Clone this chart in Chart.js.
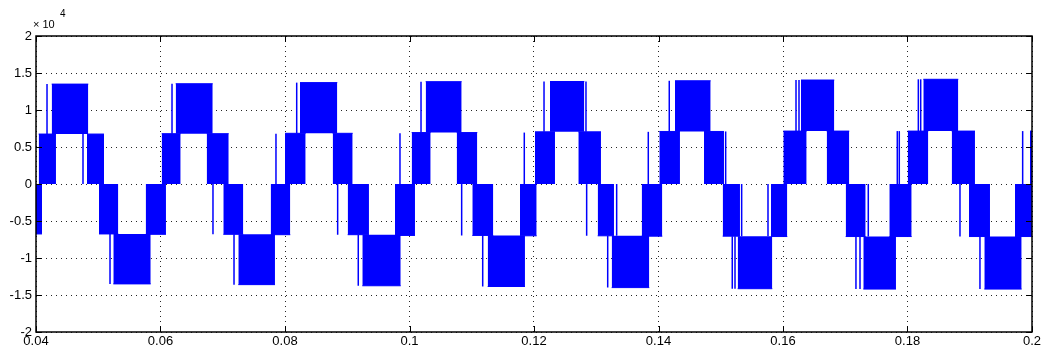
<!DOCTYPE html>
<html>
<head>
<meta charset="utf-8">
<script src="https://cdn.jsdelivr.net/npm/chart.js@4/dist/chart.umd.min.js"></script>
<style>
  html, body { margin: 0; padding: 0; background: #fff; }
  #wrap { width: 1046px; height: 352px; }
</style>
</head>
<body>
<div id="wrap"><canvas id="c" width="1046" height="352"></canvas></div>
<script>
// ---- Data (time in s, voltage in V) ----
// Blocks of dense switching between two adjacent levels: [tStart, tEnd, lowLevel, highLevel]
const posUpperBlocks = [
  [0.04252, 0.04840, 6750, 13500],
  [0.06244, 0.06839, 6800, 13550],
  [0.08241, 0.08840, 6850, 13700],
  [0.10260, 0.10838, 6950, 13830],
  [0.12257, 0.12808, 7050, 13850],
  [0.14265, 0.14838, 7100, 13950],
  [0.16289, 0.16824, 7150, 14050],
  [0.18254, 0.18816, 7150, 14150]
];
const posLowerBlocks = [
  [0.04043, 0.04321, 0, 6750],
  [0.04819, 0.05092, 0, 6750],
  [0.06019, 0.06324, 0, 6800],
  [0.06742, 0.07096, 0, 6800],
  [0.08000, 0.08332, 0, 6850],
  [0.08766, 0.09087, 0, 6850],
  [0.10035, 0.10340, 0, 6950],
  [0.10758, 0.11089, 0, 6950],
  [0.12016, 0.12337, 0, 7050],
  [0.12712, 0.13076, 0, 7050],
  [0.14013, 0.14345, 0, 7100],
  [0.14731, 0.15052, 0, 7100],
  [0.16005, 0.16380, 0, 7150],
  [0.16702, 0.17065, 0, 7150],
  [0.18003, 0.18334, 0, 7150],
  [0.18710, 0.19084, 0, 7150],
  [0.19968, 0.20000, 0, 7150]
];
const negLowerBlocks = [
  [0.04000, 0.04096, -6750, 0],
  [0.05012, 0.05322, -6750, 0],
  [0.05762, 0.06088, -6800, 0],
  [0.07009, 0.07330, -6800, 0],
  [0.07770, 0.08085, -6850, 0],
  [0.09007, 0.09349, -6850, 0],
  [0.09767, 0.10088, -6950, 0],
  [0.11009, 0.11346, -6950, 0],
  [0.11775, 0.12043, -7000, 0],
  [0.13023, 0.13285, -7000, 0],
  [0.13730, 0.14061, -7050, 0],
  [0.15031, 0.15309, -7050, 0],
  [0.15807, 0.16069, -7100, 0],
  [0.17007, 0.17328, -7100, 0],
  [0.17708, 0.18067, -7100, 0],
  [0.18988, 0.19325, -7100, 0],
  [0.19727, 0.20000, -7100, 0]
];
const negUpperBlocks = [
  [0.05242, 0.05843, -13500, -6750],
  [0.07250, 0.07839, -13600, -6800],
  [0.09242, 0.09859, -13750, -6850],
  [0.11256, 0.11855, -13850, -6950],
  [0.13248, 0.13852, -14000, -7000],
  [0.15272, 0.15828, -14150, -7050],
  [0.17290, 0.17815, -14200, -7100],
  [0.19234, 0.19834, -14200, -7100]
];
// Isolated switching pulses: [t, fromLevel, toLevel]
const pulses = [
  [0.04177, 6750, 13500], [0.04755, 0, 6750], [0.05189, -6750, -13500],
  [0.06185, 6800, 13550], [0.06843, 0, -6800], [0.07181, -6800, -13600], [0.07855, 0, 6800],
  [0.08188, 6850, 13700], [0.08846, 0, -6850], [0.09177, -6850, -13750], [0.09847, 0, 6850],
  [0.10185, 6950, 13830], [0.10838, 0, -6950], [0.11176, -6950, -13850], [0.11844, 0, 6950],
  [0.12161, 7050, 13850], [0.12835, 7050, 13850], [0.12846, 0, -7000], [0.13328, 0, -7000],
  [0.13184, -7000, -14000], [0.13836, 0, 7050],
  [0.14173, 7100, 13950], [0.15079, 0, 7100], [0.15336, 0, -7050], [0.15185, -7050, -14150],
  [0.15229, -7050, -14150], [0.15759, 0, -7050],
  [0.16209, 7150, 14050], [0.16257, 7150, 14050], [0.17370, 0, -7100], [0.17172, -7100, -14200],
  [0.17237, -7100, -14200], [0.17836, 0, 7150], [0.17868, 0, 7150],
  [0.18174, 7150, 14150], [0.18212, 7150, 14150], [0.18843, 0, -7100], [0.19164, -7100, -14200],
  [0.19850, 0, 7150]
];
const xTickValues = [0.04, 0.06, 0.08, 0.10, 0.12, 0.14, 0.16, 0.18, 0.20];
const xTickLabels = ['0.04', '0.06', '0.08', '0.1', '0.12', '0.14', '0.16', '0.18', '0.2'];
const yTickValues = [-20000, -15000, -10000, -5000, 0, 5000, 10000, 15000, 20000];
const yTickLabels = ['-2', '-1.5', '-1', '-0.5', '0', '0.5', '1', '1.5', '2'];
const yExponentLabel = '10';
const yExponentPower = '4';

// ---- Build datasets ----
const BLUE = '#0000ff';
const datasets = [];
function addBlocks(blocks, edgeIsHigh) {
  blocks.forEach(b => {
    const edge = edgeIsHigh ? b[3] : b[2];
    const base = edgeIsHigh ? b[2] : b[3];
    datasets.push({
      data: [{ x: b[0], y: edge }, { x: b[1], y: edge }],
      borderColor: BLUE, backgroundColor: BLUE, borderWidth: 1,
      pointRadius: 0, tension: 0, fill: { value: base }
    });
  });
}
addBlocks(posUpperBlocks, true);
addBlocks(posLowerBlocks, true);
addBlocks(negLowerBlocks, false);
addBlocks(negUpperBlocks, false);
pulses.forEach(p => {
  datasets.push({
    data: [{ x: p[0], y: p[1] }, { x: p[0], y: p[2] }],
    borderColor: BLUE, borderWidth: 1.5, pointRadius: 0, fill: false
  });
});

// ---- Frame, inner tick marks and exponent label (MATLAB style) ----
const framePlugin = {
  id: 'frame',
  afterDraw(chart) {
    const { ctx, chartArea: a, scales } = chart;
    ctx.save();
    ctx.strokeStyle = '#000';
    ctx.lineWidth = 1.5;
    ctx.strokeRect(a.left, a.top, a.right - a.left, a.bottom - a.top);
    ctx.lineWidth = 1;
    const tl = 6;
    ctx.beginPath();
    xTickValues.forEach(v => {
      const x = Math.round(scales.x.getPixelForValue(v)) + 0.5;
      ctx.moveTo(x, a.bottom); ctx.lineTo(x, a.bottom - tl);
      ctx.moveTo(x, a.top); ctx.lineTo(x, a.top + tl);
    });
    yTickValues.forEach(v => {
      const y = Math.round(scales.y.getPixelForValue(v)) + 0.5;
      ctx.moveTo(a.left, y); ctx.lineTo(a.left + tl, y);
      ctx.moveTo(a.right, y); ctx.lineTo(a.right - tl, y);
    });
    ctx.stroke();
    ctx.fillStyle = '#000';
    ctx.textBaseline = 'alphabetic';
    ctx.textAlign = 'left';
    ctx.font = '11px "Liberation Sans", Arial, sans-serif';
    ctx.fillText('\u00d7 ' + yExponentLabel, a.left - 3, a.top - 8);
    ctx.font = '10px "Liberation Sans", Arial, sans-serif';
    ctx.fillText(yExponentPower, a.left + 24, a.top - 19);
    ctx.restore();
  }
};

new Chart(document.getElementById('c'), {
  type: 'line',
  data: { datasets },
  options: {
    responsive: false,
    animation: false,
    events: [],
    layout: { padding: { top: 36, right: 14, left: 0, bottom: 0 } },
    plugins: { legend: { display: false }, tooltip: { enabled: false } },
    scales: {
      x: {
        type: 'linear', min: 0.04, max: 0.2,
        afterBuildTicks: s => { s.ticks = xTickValues.map(v => ({ value: v })); },
        afterFit: s => { s.height = 20; },
        ticks: {
          autoSkip: false, maxRotation: 0, padding: 2, color: '#000',
          font: { family: '"Liberation Sans", Arial, sans-serif', size: 13 },
          callback: (v, i) => xTickLabels[i]
        },
        grid: { color: 'rgba(0,0,0,0.85)', lineWidth: 1, drawTicks: false },
        border: { display: false, dash: [1, 4] }
      },
      y: {
        type: 'linear', min: -20000, max: 20000,
        afterBuildTicks: s => { s.ticks = yTickValues.map(v => ({ value: v })); },
        afterFit: s => { s.width = 36; },
        ticks: {
          autoSkip: false, padding: 4, color: '#000',
          font: { family: '"Liberation Sans", Arial, sans-serif', size: 13 },
          callback: (v, i) => yTickLabels[i]
        },
        grid: { color: 'rgba(0,0,0,0.85)', lineWidth: 1, drawTicks: false },
        border: { display: false, dash: [1, 4] }
      }
    }
  },
  plugins: [framePlugin]
});
</script>
</body>
</html>
